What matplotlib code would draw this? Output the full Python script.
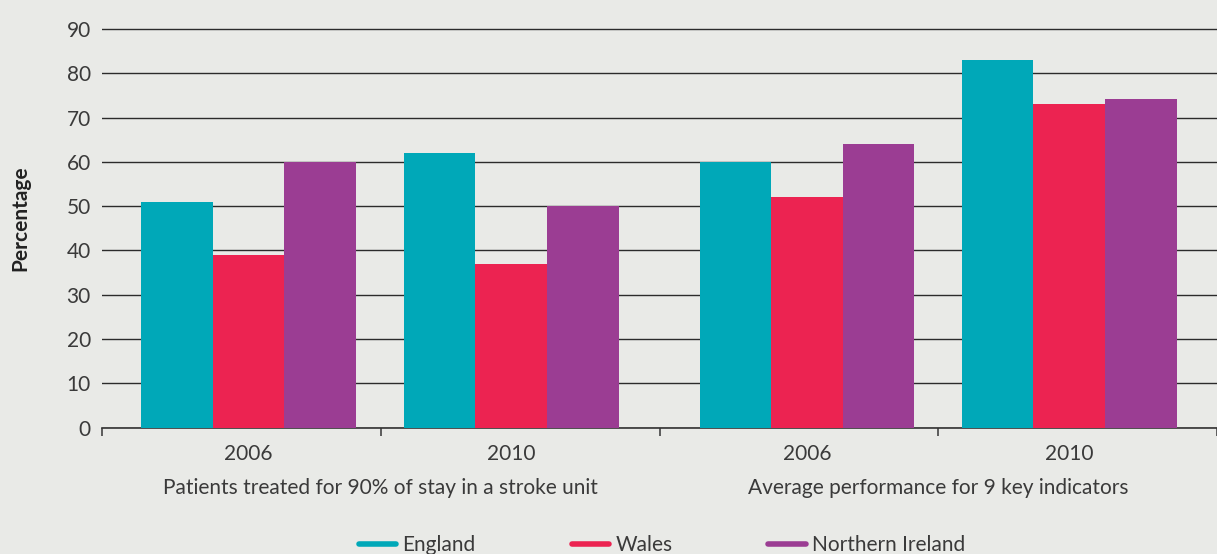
import matplotlib
matplotlib.use("Agg")
import matplotlib.pyplot as plt
import matplotlib.transforms as mtransforms
from matplotlib.lines import Line2D
import numpy as np

# ---- data ----
series = ["England", "Wales", "Northern Ireland"]
years = ["2006", "2010", "2006", "2010"]
categories = ["Patients treated for 90% of stay in a stroke unit",
              "Average performance for 9 key indicators"]
england = [51, 62, 60, 83]
wales = [39, 37, 52, 73]
northern_ireland = [60, 50, 64, 74.2]
yticks = [0, 10, 20, 30, 40, 50, 60, 70, 80, 90]

# ---- style ----
colors = ["#00A8B8", "#EC2351", "#9B3D93"]
bg = "#E9EAE7"
txt = "#3a3a3a"
plt.rcParams['font.family'] = ['Lato', 'DejaVu Sans']
fw = 'normal'

fig = plt.figure(figsize=(12.17, 5.54), dpi=100, facecolor=bg)
ax = fig.add_axes([102/1217, (554-427.5)/554, 1 - 102/1217, (427.5-29)/554 * 90.6/90])
ax.set_facecolor(bg)

# group centres (slot positions, clusters pulled toward each other)
group_pos = np.array([0.525, 1.468, 2.529, 3.47])
w = 0.257
for i, (vals, c, name) in enumerate(zip([england, wales, northern_ireland], colors, series)):
    ax.bar(group_pos + (i - 1) * w, vals, width=w, color=c, label=name, zorder=3, linewidth=0)

ax.set_xlim(0, (1217 - 102) / 280)
ax.set_ylim(0, 90.6)
ax.set_yticks(yticks)
ax.set_yticklabels([str(t) for t in yticks], fontsize=15, color=txt, fontweight=fw)
ax.tick_params(axis='y', length=0, pad=8)
ax.yaxis.grid(True, color="#2b2b2b", linewidth=1.0, zorder=0)
ax.set_axisbelow(True)

ax.set_xticks([0, 1, 2, 3, 4])
ax.set_xticklabels([])
ax.tick_params(axis='x', which='major', length=6, width=1.2, color="#444444", direction='out')
ax.set_xticks(group_pos, minor=True)
ax.set_xticklabels(years, minor=True, fontsize=15, color=txt, fontweight=fw)
ax.tick_params(axis='x', which='minor', length=0, pad=12)

for s in ['top', 'right', 'left']:
    ax.spines[s].set_visible(False)
ax.spines['bottom'].set_color("#333333")
ax.spines['bottom'].set_linewidth(1.2)

trans = mtransforms.blended_transform_factory(ax.transData, fig.transFigure)
for xc, lab in zip([1, 3], categories):
    ax.text(xc, (554 - 488) / 554, lab, transform=trans, ha='center', va='center',
            fontsize=15, color=txt, fontweight=fw)

fig.text(20 / 1217, (554 - 218) / 554, "Percentage", rotation=90, ha='center', va='center',
         fontsize=15, fontweight='bold', color="#222222")

handles = [Line2D([0], [0], color=c, linewidth=4, solid_capstyle='round') for c in colors]
leg = fig.legend(handles, series, loc='center', bbox_to_anchor=(662 / 1217, (554 - 545) / 554),
                 ncol=3, frameon=False, handlelength=1.8, handletextpad=0.3,
                 columnspacing=4.6, labelcolor=txt, prop={'weight': fw, 'size': 15})

fig.savefig("out.png", dpi=100, facecolor=bg)
